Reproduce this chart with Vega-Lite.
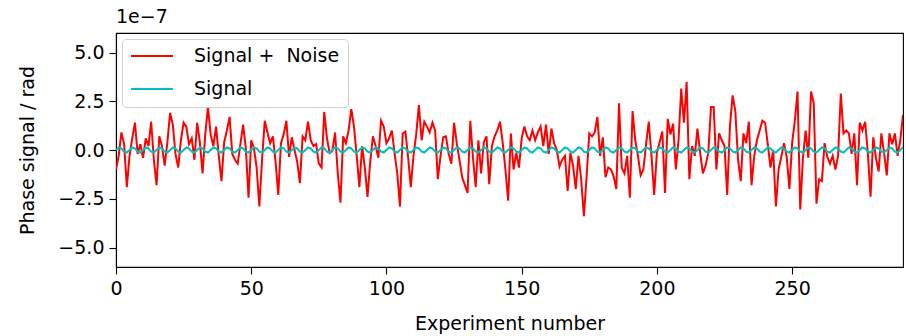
{
"$schema": "https://vega.github.io/schema/vega-lite/v6.json",
"width": 787, "height": 234,
"autosize": {"type": "none"},
"padding": {"left": 116, "top": 33, "right": 3, "bottom": 69},
"background": "white",
"config": {
  "view": {"stroke": "#000", "strokeWidth": 1.1},
  "font": "DejaVu Sans",
  "axis": {"grid": false, "domainColor": "#000", "domainWidth": 1.1, "tickColor": "#000", "tickWidth": 1.1, "tickSize": 7, "labelColor": "#000", "labelFont": "DejaVu Sans", "labelFontSize": 19, "titleFont": "DejaVu Sans", "titleFontSize": 19, "titleFontWeight": "normal", "titleColor": "#000", "labelFlush": false, "labelOverlap": false}
},
"title": {"text": "1e−7", "anchor": "start", "frame": "group", "fontSize": 19, "fontWeight": "normal", "color": "#000", "font": "DejaVu Sans", "offset": 6},
"data": {"values": [
{"x":0,"n":-1.0,"s":0},{"x":1,"n":-0.3,"s":0.13},{"x":2,"n":0.9,"s":0.08},{"x":3,"n":0.3,"s":-0.08},{"x":4,"n":-1.9,"s":-0.13},
{"x":5,"n":-0.3,"s":0},{"x":6,"n":0.6,"s":0.13},{"x":7,"n":1.4,"s":0.08},{"x":8,"n":-0.2,"s":-0.08},{"x":9,"n":0.3,"s":-0.13},
{"x":10,"n":-0.4,"s":0},{"x":11,"n":0.6,"s":0.13},{"x":12,"n":0.2,"s":0.08},{"x":13,"n":1.45,"s":-0.08},{"x":14,"n":-0.5,"s":-0.13},
{"x":15,"n":-1.8,"s":0},{"x":16,"n":0.7,"s":0.13},{"x":17,"n":0.2,"s":0.08},{"x":18,"n":-0.8,"s":-0.08},{"x":19,"n":0.4,"s":-0.13},
{"x":20,"n":1.9,"s":0},{"x":21,"n":1.3,"s":0.13},{"x":22,"n":-0.2,"s":0.08},{"x":23,"n":-0.9,"s":-0.08},{"x":24,"n":0.5,"s":-0.13},
{"x":25,"n":1.4,"s":0},{"x":26,"n":1.2,"s":0.13},{"x":27,"n":0.3,"s":0.08},{"x":28,"n":0.6,"s":-0.08},{"x":29,"n":-0.5,"s":-0.13},
{"x":30,"n":1.4,"s":0},{"x":31,"n":0.4,"s":0.13},{"x":32,"n":-1.2,"s":0.08},{"x":33,"n":0.8,"s":-0.08},{"x":34,"n":2.2,"s":-0.13},
{"x":35,"n":0.8,"s":0},{"x":36,"n":0.2,"s":0.13},{"x":37,"n":1.2,"s":0.08},{"x":38,"n":-0.3,"s":-0.08},{"x":39,"n":-1.6,"s":-0.13},
{"x":40,"n":0.4,"s":0},{"x":41,"n":1.0,"s":0.13},{"x":42,"n":1.7,"s":0.08},{"x":43,"n":-0.2,"s":-0.08},{"x":44,"n":-0.5,"s":-0.13},
{"x":45,"n":-0.7,"s":0},{"x":46,"n":0.3,"s":0.13},{"x":47,"n":1.3,"s":0.08},{"x":48,"n":0.1,"s":-0.08},{"x":49,"n":-2.45,"s":-0.13},
{"x":50,"n":0.5,"s":0},{"x":51,"n":0.1,"s":0.13},{"x":52,"n":-0.9,"s":0.08},{"x":53,"n":-2.9,"s":-0.08},{"x":54,"n":-0.5,"s":-0.13},
{"x":55,"n":1.5,"s":0},{"x":56,"n":0.9,"s":0.13},{"x":57,"n":0.35,"s":0.08},{"x":58,"n":0.7,"s":-0.08},{"x":59,"n":-0.6,"s":-0.13},
{"x":60,"n":-2.3,"s":0},{"x":61,"n":0.35,"s":0.13},{"x":62,"n":0.8,"s":0.08},{"x":63,"n":1.5,"s":-0.08},{"x":64,"n":-0.35,"s":-0.13},
{"x":65,"n":0.65,"s":0},{"x":66,"n":0.0,"s":0.13},{"x":67,"n":-0.6,"s":0.08},{"x":68,"n":-1.7,"s":-0.08},{"x":69,"n":0.7,"s":-0.13},
{"x":70,"n":0.5,"s":0},{"x":71,"n":1.45,"s":0.13},{"x":72,"n":0.5,"s":0.08},{"x":73,"n":0.2,"s":-0.08},{"x":74,"n":0.3,"s":-0.13},
{"x":75,"n":-0.7,"s":0},{"x":76,"n":-0.9,"s":0.13},{"x":77,"n":1.95,"s":0.08},{"x":78,"n":0.6,"s":-0.08},{"x":79,"n":-0.15,"s":-0.13},
{"x":80,"n":-0.05,"s":0},{"x":81,"n":0.9,"s":0.13},{"x":82,"n":-1.2,"s":0.08},{"x":83,"n":-2.7,"s":-0.08},{"x":84,"n":0.7,"s":-0.13},
{"x":85,"n":0.35,"s":0},{"x":86,"n":1.0,"s":0.13},{"x":87,"n":2.1,"s":0.08},{"x":88,"n":1.2,"s":-0.08},{"x":89,"n":-0.3,"s":-0.13},
{"x":90,"n":-1.9,"s":0},{"x":91,"n":0.2,"s":0.13},{"x":92,"n":-0.9,"s":0.08},{"x":93,"n":-2.4,"s":-0.08},{"x":94,"n":-0.6,"s":-0.13},
{"x":95,"n":0.7,"s":0},{"x":96,"n":0.2,"s":0.13},{"x":97,"n":-0.4,"s":0.08},{"x":98,"n":1.5,"s":-0.08},{"x":99,"n":1.2,"s":-0.13},
{"x":100,"n":0.35,"s":0},{"x":101,"n":0.6,"s":0.13},{"x":102,"n":1.0,"s":0.08},{"x":103,"n":-0.15,"s":-0.08},{"x":104,"n":-1.2,"s":-0.13},
{"x":105,"n":-2.9,"s":0},{"x":106,"n":0.85,"s":0.13},{"x":107,"n":0.95,"s":0.08},{"x":108,"n":-0.35,"s":-0.08},{"x":109,"n":-1.9,"s":-0.13},
{"x":110,"n":-0.3,"s":0},{"x":111,"n":0.8,"s":0.13},{"x":112,"n":2.3,"s":0.08},{"x":113,"n":0.5,"s":-0.08},{"x":114,"n":1.45,"s":-0.13},
{"x":115,"n":1.2,"s":0},{"x":116,"n":0.9,"s":0.13},{"x":117,"n":1.4,"s":0.08},{"x":118,"n":1.0,"s":-0.08},{"x":119,"n":-1.5,"s":-0.13},
{"x":120,"n":-0.3,"s":0},{"x":121,"n":0.65,"s":0.13},{"x":122,"n":0.7,"s":0.08},{"x":123,"n":-0.2,"s":-0.08},{"x":124,"n":-0.7,"s":-0.13},
{"x":125,"n":1.4,"s":0},{"x":126,"n":0.35,"s":0.13},{"x":127,"n":-0.5,"s":0.08},{"x":128,"n":-1.4,"s":-0.08},{"x":129,"n":-1.8,"s":-0.13},
{"x":130,"n":-2.2,"s":0},{"x":131,"n":1.5,"s":0.13},{"x":132,"n":-0.4,"s":0.08},{"x":133,"n":-1.9,"s":-0.08},{"x":134,"n":0.5,"s":-0.13},
{"x":135,"n":-1.2,"s":0},{"x":136,"n":0.4,"s":0.13},{"x":137,"n":0.7,"s":0.08},{"x":138,"n":-1.75,"s":-0.08},{"x":139,"n":0.2,"s":-0.13},
{"x":140,"n":0.7,"s":0},{"x":141,"n":1.0,"s":0.13},{"x":142,"n":1.45,"s":0.08},{"x":143,"n":0.35,"s":-0.08},{"x":144,"n":-1.0,"s":-0.13},
{"x":145,"n":-2.6,"s":0},{"x":146,"n":0.85,"s":0.13},{"x":147,"n":-1.0,"s":0.08},{"x":148,"n":-0.15,"s":-0.08},{"x":149,"n":-0.9,"s":-0.13},
{"x":150,"n":0.6,"s":0},{"x":151,"n":1.2,"s":0.13},{"x":152,"n":0.7,"s":0.08},{"x":153,"n":0.5,"s":-0.08},{"x":154,"n":1.0,"s":-0.13},
{"x":155,"n":0.5,"s":0},{"x":156,"n":0.9,"s":0.13},{"x":157,"n":1.2,"s":0.08},{"x":158,"n":0.2,"s":-0.08},{"x":159,"n":1.3,"s":-0.13},
{"x":160,"n":-0.2,"s":0},{"x":161,"n":1.1,"s":0.13},{"x":162,"n":0.35,"s":0.08},{"x":163,"n":0.0,"s":-0.08},{"x":164,"n":-0.85,"s":-0.13},
{"x":165,"n":-0.5,"s":0},{"x":166,"n":-0.3,"s":0.13},{"x":167,"n":-2.1,"s":0.08},{"x":168,"n":-0.15,"s":-0.08},{"x":169,"n":-0.8,"s":-0.13},
{"x":170,"n":-2.0,"s":0},{"x":171,"n":-0.3,"s":0.13},{"x":172,"n":-1.5,"s":0.08},{"x":173,"n":-3.4,"s":-0.08},{"x":174,"n":-1.4,"s":-0.13},
{"x":175,"n":0.85,"s":0},{"x":176,"n":0.7,"s":0.13},{"x":177,"n":0.9,"s":0.08},{"x":178,"n":1.7,"s":-0.08},{"x":179,"n":-0.3,"s":-0.13},
{"x":180,"n":0.65,"s":0},{"x":181,"n":-1.4,"s":0.13},{"x":182,"n":-0.9,"s":0.08},{"x":183,"n":-1.0,"s":-0.08},{"x":184,"n":-1.35,"s":-0.13},
{"x":185,"n":-2.0,"s":0},{"x":186,"n":2.4,"s":0.13},{"x":187,"n":-0.9,"s":0.08},{"x":188,"n":-1.2,"s":-0.08},{"x":189,"n":-0.3,"s":-0.13},
{"x":190,"n":-2.45,"s":0},{"x":191,"n":2.0,"s":0.13},{"x":192,"n":0.5,"s":0.08},{"x":193,"n":-0.3,"s":-0.08},{"x":194,"n":-1.3,"s":-0.13},
{"x":195,"n":-1.0,"s":0},{"x":196,"n":0.3,"s":0.13},{"x":197,"n":1.45,"s":0.08},{"x":198,"n":-0.3,"s":-0.08},{"x":199,"n":-2.3,"s":-0.13},
{"x":200,"n":-0.15,"s":0},{"x":201,"n":0.4,"s":0.13},{"x":202,"n":0.95,"s":0.08},{"x":203,"n":-2.2,"s":-0.08},{"x":204,"n":1.6,"s":-0.13},
{"x":205,"n":0.8,"s":0},{"x":206,"n":1.35,"s":0.13},{"x":207,"n":-1.0,"s":0.08},{"x":208,"n":0.5,"s":-0.08},{"x":209,"n":3.15,"s":-0.13},
{"x":210,"n":1.4,"s":0},{"x":211,"n":3.5,"s":0.13},{"x":212,"n":-1.5,"s":0.08},{"x":213,"n":0.2,"s":-0.08},{"x":214,"n":-0.3,"s":-0.13},
{"x":215,"n":1.1,"s":0},{"x":216,"n":-0.15,"s":0.13},{"x":217,"n":-1.2,"s":0.08},{"x":218,"n":-0.8,"s":-0.08},{"x":219,"n":-0.15,"s":-0.13},
{"x":220,"n":2.2,"s":0},{"x":221,"n":2.2,"s":0.13},{"x":222,"n":-1.0,"s":0.08},{"x":223,"n":0.85,"s":-0.08},{"x":224,"n":0.5,"s":-0.13},
{"x":225,"n":0.2,"s":0},{"x":226,"n":-2.3,"s":0.13},{"x":227,"n":1.2,"s":0.08},{"x":228,"n":2.8,"s":-0.08},{"x":229,"n":2.0,"s":-0.13},
{"x":230,"n":-0.5,"s":0},{"x":231,"n":-1.6,"s":0.13},{"x":232,"n":0.85,"s":0.08},{"x":233,"n":0.35,"s":-0.08},{"x":234,"n":1.45,"s":-0.13},
{"x":235,"n":-1.8,"s":0},{"x":236,"n":-0.3,"s":0.13},{"x":237,"n":0.5,"s":0.08},{"x":238,"n":1.0,"s":-0.08},{"x":239,"n":1.5,"s":-0.13},
{"x":240,"n":1.4,"s":0},{"x":241,"n":0.3,"s":0.13},{"x":242,"n":-0.9,"s":0.08},{"x":243,"n":0.0,"s":-0.08},{"x":244,"n":-2.9,"s":-0.13},
{"x":245,"n":-1.0,"s":0},{"x":246,"n":-0.35,"s":0.13},{"x":247,"n":0.35,"s":0.08},{"x":248,"n":-0.35,"s":-0.08},{"x":249,"n":-2.0,"s":-0.13},
{"x":250,"n":0.35,"s":0},{"x":251,"n":1.5,"s":0.13},{"x":252,"n":3.0,"s":0.08},{"x":253,"n":-3.05,"s":-0.08},{"x":254,"n":-0.4,"s":-0.13},
{"x":255,"n":1.0,"s":0},{"x":256,"n":-0.4,"s":0.13},{"x":257,"n":3.0,"s":0.08},{"x":258,"n":2.4,"s":-0.08},{"x":259,"n":-2.75,"s":-0.13},
{"x":260,"n":-1.5,"s":0},{"x":261,"n":-1.6,"s":0.13},{"x":262,"n":0.35,"s":0.08},{"x":263,"n":-0.35,"s":-0.08},{"x":264,"n":-0.7,"s":-0.13},
{"x":265,"n":-0.3,"s":0},{"x":266,"n":-1.0,"s":0.13},{"x":267,"n":-0.3,"s":0.08},{"x":268,"n":2.9,"s":-0.08},{"x":269,"n":0.85,"s":-0.13},
{"x":270,"n":1.0,"s":0},{"x":271,"n":0.85,"s":0.13},{"x":272,"n":-0.2,"s":0.08},{"x":273,"n":0.85,"s":-0.08},{"x":274,"n":-1.8,"s":-0.13},
{"x":275,"n":1.4,"s":0},{"x":276,"n":1.0,"s":0.13},{"x":277,"n":1.45,"s":0.08},{"x":278,"n":-0.15,"s":-0.08},{"x":279,"n":-2.4,"s":-0.13},
{"x":280,"n":0.65,"s":0},{"x":281,"n":-0.4,"s":0.13},{"x":282,"n":-1.1,"s":0.08},{"x":283,"n":0.85,"s":-0.08},{"x":284,"n":-0.15,"s":-0.13},
{"x":285,"n":-1.3,"s":0},{"x":286,"n":0.85,"s":0.13},{"x":287,"n":0.3,"s":0.08},{"x":288,"n":0.85,"s":-0.08},{"x":289,"n":-0.3,"s":-0.13},
{"x":290,"n":0.5,"s":0},{"x":291,"n":1.8,"s":0.13}
]},
"layer": [
  {"mark": {"type": "line", "strokeWidth": 2, "clip": true},
   "encoding": {
     "x": {"field": "x", "type": "quantitative", "scale": {"domain": [0, 291], "nice": false, "zero": false},
           "axis": {"values": [0, 50, 100, 150, 200, 250], "format": "d", "title": "Experiment number", "labelPadding": 5, "titlePadding": 16}},
     "y": {"field": "n", "type": "quantitative", "scale": {"domain": [-6, 6], "nice": false},
           "axis": {"values": [-5, -2.5, 0, 2.5, 5], "format": ".1f", "title": "Phase signal / rad", "labelPadding": 5, "titlePadding": 20}},
     "color": {"datum": "Signal + \u00a0Noise", "type": "nominal",
               "scale": {"domain": ["Signal + \u00a0Noise", "Signal"], "range": ["#ff0000", "#00bfbf"]},
               "legend": {"title": null, "orient": "top-left", "offset": 6, "symbolType": "stroke", "symbolSize": 1764, "symbolStrokeWidth": 2, "clipHeight": 18, "labelFontSize": 19, "labelFont": "DejaVu Sans", "labelColor": "#000", "padding": 8, "rowPadding": 14, "labelOffset": 20, "fillColor": "rgba(255,255,255,0.8)", "strokeColor": "#d0d0d0", "cornerRadius": 4, "labelLimit": 400}}
   }},
  {"mark": {"type": "line", "strokeWidth": 2, "clip": true},
   "encoding": {
     "x": {"field": "x", "type": "quantitative"},
     "y": {"field": "s", "type": "quantitative"},
     "color": {"datum": "Signal", "type": "nominal"}
   }}
]
}
